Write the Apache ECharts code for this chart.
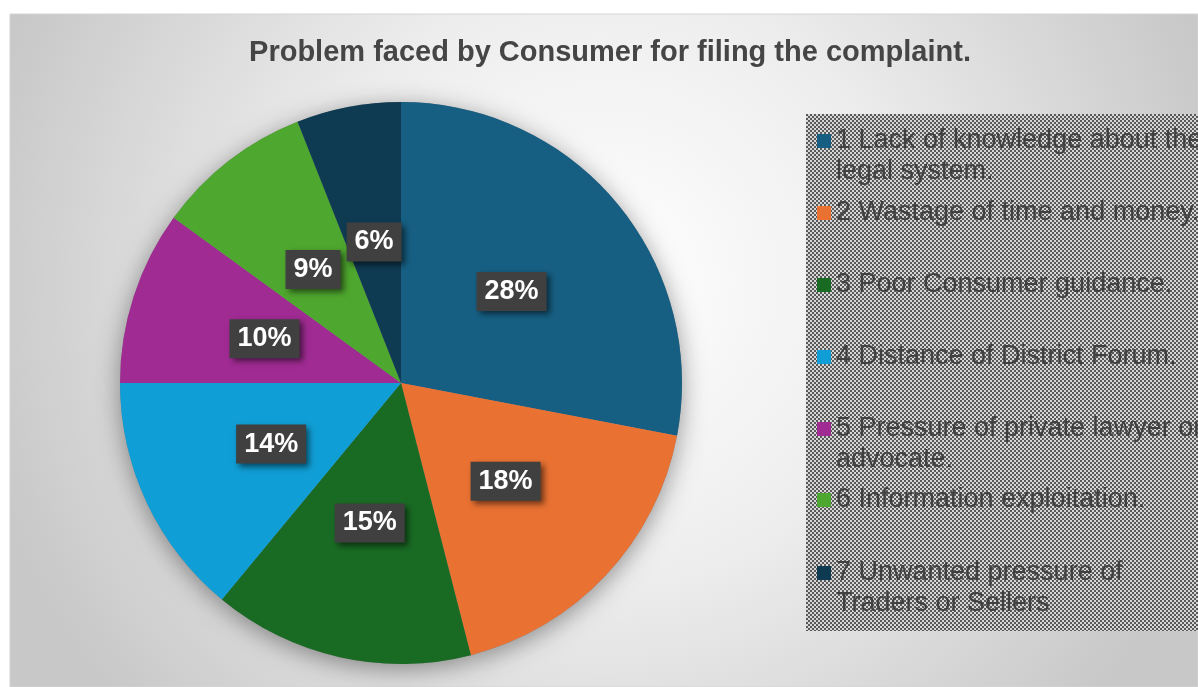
<!DOCTYPE html>
<html>
<head>
<meta charset="utf-8">
<script src="https://cdn.jsdelivr.net/npm/echarts@6/dist/echarts.min.js"></script>
<style>
html,body{margin:0;padding:0;background:#ffffff;}
#main{width:1198px;height:687px;}
</style>
</head>
<body>
<div id="main"></div>
<script>
const titleText = 'Problem faced by Consumer for filing the complaint.';
const categories = [
  '1 Lack of knowledge about the legal system.',
  '2 Wastage of time and money.',
  '3 Poor Consumer guidance.',
  '4 Distance of District Forum.',
  '5 Pressure of private lawyer or advocate.',
  '6 Information exploitation.',
  '7 Unwanted pressure of Traders or Sellers'
];
const values = [28, 18, 15, 14, 10, 9, 6];
const colors = ['#165F83', '#E97132', '#196B24', '#0F9ED5', '#A02B93', '#4EA72E', '#0E3A52'];

// layout constants
const legendIconY = [141, 213, 285, 357, 429, 500, 573];
const legendLines = [2, 1, 1, 1, 2, 1, 2];
const LH = 31;
const FONT = 'Liberation Sans, Arial, sans-serif';

// checker pattern for legend box
const pc = document.createElement('canvas');
pc.width = 4; pc.height = 4;
const pctx = pc.getContext('2d');
pctx.fillStyle = '#d6d6d6'; pctx.fillRect(0, 0, 4, 4);
pctx.fillStyle = '#595959';
pctx.fillRect(0, 0, 2, 2); pctx.fillRect(2, 2, 2, 2);

const chart = echarts.init(document.getElementById('main'), null, {renderer: 'canvas'});

const pieData = categories.map((n, i) => ({name: n, value: values[i], itemStyle: {color: colors[i]}}));

const legends = categories.map((n, i) => {
  const k = legendLines[i];
  return {
    data: [n],
    left: 817,
    top: legendIconY[i] - (2 * k - 1) * LH / 2,
    padding: 0,
    orient: 'vertical',
    icon: 'rect',
    itemWidth: 14,
    itemHeight: 14,
    itemGap: 0,
    itemStyle: {borderWidth: 0},
    formatter: name => '\n'.repeat(k - 1) + name,
    textStyle: {
      fontSize: 27,
      color: '#404040',
      fontFamily: FONT,
      lineHeight: LH,
      width: 376,
      overflow: 'break'
    }
  };
});

chart.setOption({
  animation: false,
  textStyle: {fontFamily: FONT},
  graphic: [
    {
      type: 'rect', z: -10, silent: true,
      shape: {x: 10, y: 14, width: 1188, height: 673},
      style: {
        fill: {
          type: 'radial', x: 0.5, y: 0.4, r: 0.95,
          colorStops: [
            {offset: 0, color: '#ffffff'},
            {offset: 0.45, color: '#eeeeee'},
            {offset: 1, color: '#c8c8c8'}
          ]
        },
        stroke: '#d4d4d4', lineWidth: 1
      }
    },
    {
      type: 'rect', z: -5, silent: true,
      shape: {x: 806, y: 114, width: 400, height: 517},
      style: {fill: {image: pc, repeat: 'repeat'}}
    }
  ],
  title: {
    text: titleText,
    left: 610,
    top: 38,
    padding: 0,
    textAlign: 'center',
    textStyle: {fontSize: 29, fontWeight: 'bold', color: '#454545', fontFamily: FONT}
  },
  legend: legends,
  series: [
    {
      type: 'pie',
      center: [401, 383],
      radius: [0, 281],
      startAngle: 90,
      clockwise: true,
      z: 3,
      data: pieData,
      itemStyle: {borderWidth: 0},
      labelLine: {show: false},
      emphasis: {disabled: true},
      label: {
        show: true,
        position: 'inside',
        formatter: '{c}%',
        color: '#ffffff',
        fontSize: 27,
        fontWeight: 'bold',
        lineHeight: 27,
        backgroundColor: '#404040',
        padding: [6, 8, 6, 8],
        shadowColor: 'rgba(0,0,0,0.55)',
        shadowBlur: 6,
        shadowOffsetX: 3,
        shadowOffsetY: 3
      }
    },
    {
      type: 'pie',
      center: [401, 383],
      radius: [0, 281],
      startAngle: 90,
      z: 1,
      silent: true,
      data: pieData.map(d => ({name: d.name, value: d.value})),
      itemStyle: {color: '#888888', shadowBlur: 24, shadowOffsetY: 5, shadowColor: 'rgba(0,0,0,0.4)'},
      label: {show: false},
      labelLine: {show: false},
      emphasis: {disabled: true}
    }
  ]
});
</script>
</body>
</html>
